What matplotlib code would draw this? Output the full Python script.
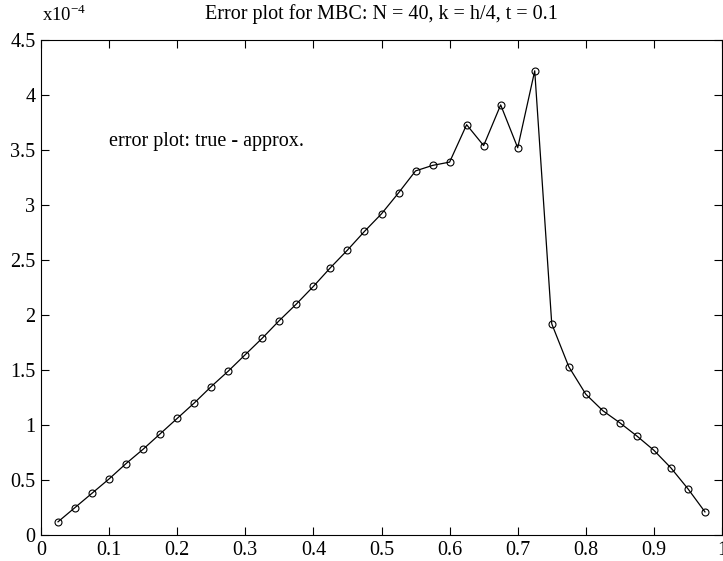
import matplotlib
matplotlib.use('Agg')
from matplotlib import pyplot as plt
import numpy as np

plt.rcParams['font.family'] = ['Liberation Serif', 'DejaVu Serif']

# grid points and error values (units of 1e-4)
x_points = [0.025, 0.05, 0.075, 0.1, 0.125, 0.15, 0.175, 0.2, 0.225, 0.25,
            0.275, 0.3, 0.325, 0.35, 0.375, 0.4, 0.425, 0.45, 0.475, 0.5,
            0.525, 0.55, 0.575, 0.6, 0.625, 0.65, 0.675, 0.7, 0.725, 0.75,
            0.775, 0.8, 0.825, 0.85, 0.875, 0.9, 0.925, 0.95, 0.975]
error_vals = [0.12, 0.25, 0.38, 0.51, 0.65, 0.78, 0.92, 1.06, 1.20, 1.35,
              1.49, 1.64, 1.79, 1.95, 2.10, 2.26, 2.43, 2.59, 2.76, 2.92,
              3.11, 3.31, 3.36, 3.39, 3.73, 3.54, 3.91, 3.52, 4.22, 1.92,
              1.53, 1.28, 1.13, 1.02, 0.90, 0.77, 0.61, 0.42, 0.21]
x_ticks = [0, 0.1, 0.2, 0.3, 0.4, 0.5, 0.6, 0.7, 0.8, 0.9, 1]
x_labels = ['0', '0.1', '0.2', '0.3', '0.4', '0.5', '0.6', '0.7', '0.8', '0.9', '1']
y_ticks = [0, 0.5, 1, 1.5, 2, 2.5, 3, 3.5, 4, 4.5]
y_labels = ['0', '0.5', '1', '1.5', '2', '2.5', '3', '3.5', '4', '4.5']

fig = plt.figure(figsize=(7.23, 5.61), dpi=100)
ax = fig.add_axes([41 / 723, 1 - 535 / 561, (722 - 41) / 723, (535 - 40) / 561])

ax.plot(x_points, error_vals, color='black', linewidth=0.9, marker='o',
        markersize=5, markerfacecolor='none', markeredgecolor='black',
        markeredgewidth=0.8)

ax.set_xlim(0, 1)
ax.set_ylim(0, 4.5)
ax.set_xticks(x_ticks)
ax.set_xticklabels(x_labels)
ax.set_yticks(y_ticks)
ax.set_yticklabels(y_labels)
ax.tick_params(direction='in', top=True, right=True, length=6, width=0.8,
               labelsize=14.5, pad=4)
for spine in ax.spines.values():
    spine.set_linewidth(0.8)

fig.text(381 / 723, 1 - 14 / 561, 'Error plot for MBC: N = 40, k = h/4, t = 0.1',
         fontsize=14.5, ha='center', va='center')
ax.text(0.1, 3.58, 'error plot: true - approx.', fontsize=14.5, va='center')
fig.text(42 / 723, 1 - 15 / 561, r'x10$^{\mathregular{-4}}$', fontsize=13.5,
         va='center', ha='left')

fig.savefig('out.png', dpi=100)
